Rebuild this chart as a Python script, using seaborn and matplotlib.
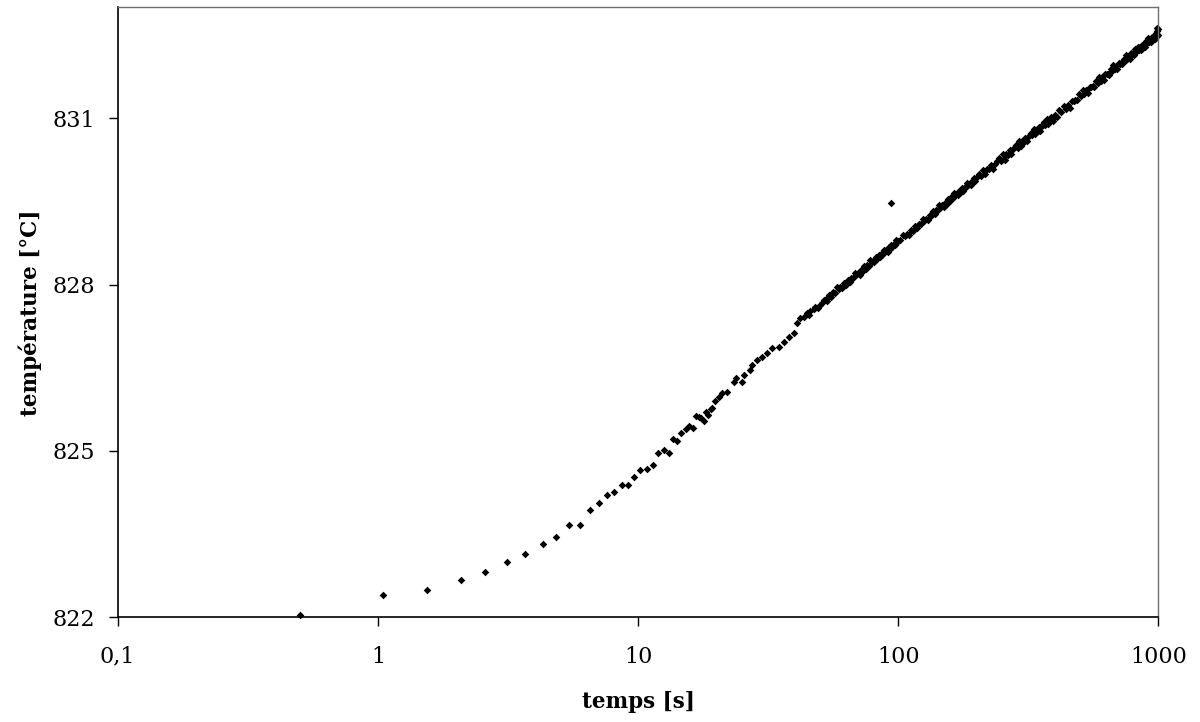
#--> Importing required libraries
import pandas as pd
import matplotlib
matplotlib.use("Agg")
import matplotlib.pyplot as plt
import seaborn as sns

##--> Data <--##
#-> early, well separated samples (time in s, temperature in °C)
early_t = [0.5, 1.05, 1.54, 2.09, 2.59, 3.14, 3.69, 4.31, 4.85, 5.45, 6.0, 6.56, 7.08, 7.6,
           8.11, 8.68, 9.15, 9.69, 10.2, 10.8, 11.4, 11.97, 12.6, 13.1, 13.6, 14.1, 14.6,
           15.3, 15.7, 16.2, 16.7, 17.1, 17.4, 18.0, 18.2, 18.5, 19.1, 19.3, 19.7, 20.4,
           21.0, 22.0, 23.3, 23.7, 25.1, 25.5, 27.0, 27.4, 28.6, 30.0, 31.4, 32.8, 34.7,
           36.3, 38.0, 39.7, 41.0, 42.1, 43.5, 44.6, 45.5, 46.0, 47.3, 48.0, 49.0, 50.2,
           51.0, 52.0, 53.0, 53.3]
early_T = [822.05, 822.41, 822.50, 822.67, 822.82, 822.99, 823.14, 823.32, 823.45, 823.67,
           823.67, 823.93, 824.06, 824.20, 824.26, 824.38, 824.38, 824.53, 824.65, 824.67,
           824.74, 824.97, 825.01, 824.97, 825.22, 825.18, 825.33, 825.40, 825.45, 825.41,
           825.63, 825.62, 825.59, 825.54, 825.70, 825.65, 825.76, 825.77, 825.90, 825.98,
           826.05, 826.07, 826.25, 826.32, 826.25, 826.37, 826.46, 826.55, 826.64, 826.70,
           826.77, 826.86, 826.88, 826.97, 827.06, 827.13, 827.30, 827.40, 827.42, 827.49,
           827.45, 827.52, 827.55, 827.60, 827.58, 827.64, 827.66, 827.72, 827.74, 827.70]

#-> dense band, 54 s to 100 s
band1_t = list(range(54, 101))
band1_T = [827.82, 827.78, 827.86, 827.85, 827.95, 827.92, 827.96, 827.93, 828.03, 828.00,
           828.09, 828.04, 828.12, 828.11, 828.21, 828.17, 828.21, 828.18, 828.27, 828.25,
           828.33, 828.28, 828.35, 828.34, 828.44, 828.40, 828.43, 828.40, 828.49, 828.46,
           828.54, 828.49, 828.55, 828.54, 828.63, 828.59, 828.62, 828.59, 828.67, 828.64,
           828.72, 828.67, 828.73, 828.72, 828.81, 828.76, 828.79]

#-> dense band, 102 s to 200 s
band2_t = list(range(102, 201, 2))
band2_T = [828.80, 828.90, 828.87, 828.91, 828.89, 828.99, 828.97, 829.06, 829.02, 829.10,
           829.09, 829.19, 829.15, 829.19, 829.16, 829.26, 829.23, 829.32, 829.27, 829.35,
           829.34, 829.43, 829.40, 829.43, 829.40, 829.49, 829.46, 829.55, 829.50, 829.57,
           829.56, 829.65, 829.61, 829.64, 829.61, 829.69, 829.66, 829.74, 829.69, 829.76,
           829.75, 829.83, 829.79, 829.82, 829.79, 829.87, 829.84, 829.92, 829.86, 829.93]

#-> dense band, 204 s to 400 s
band3_t = list(range(204, 401, 4))
band3_T = [829.99, 829.95, 830.07, 829.99, 830.08, 830.08, 830.16, 830.09, 830.18, 830.23,
           830.28, 830.23, 830.35, 830.26, 830.35, 830.34, 830.42, 830.35, 830.44, 830.48,
           830.52, 830.47, 830.59, 830.50, 830.58, 830.57, 830.64, 830.58, 830.66, 830.70,
           830.74, 830.69, 830.80, 830.71, 830.79, 830.77, 830.84, 830.77, 830.85, 830.89,
           830.93, 830.87, 830.98, 830.89, 830.97, 830.95, 831.02, 830.95, 831.02, 831.06]

#-> dense band, 408 s to 1000 s
band4_t = list(range(408, 1001, 8))
band4_T = [831.02, 831.14, 831.11, 831.22, 831.16, 831.24, 831.19, 831.31, 831.31, 831.33,
           831.32, 831.43, 831.40, 831.50, 831.44, 831.51, 831.46, 831.57, 831.57, 831.58,
           831.56, 831.67, 831.64, 831.74, 831.67, 831.74, 831.68, 831.80, 831.79, 831.80,
           831.78, 831.89, 831.85, 831.95, 831.88, 831.94, 831.88, 831.99, 831.98, 831.99,
           831.97, 832.07, 832.03, 832.13, 832.06, 832.12, 832.06, 832.17, 832.15, 832.16,
           832.14, 832.24, 832.20, 832.29, 832.22, 832.28, 832.22, 832.32, 832.31, 832.31,
           832.29, 832.39, 832.35, 832.44, 832.37, 832.43, 832.37, 832.47, 832.46, 832.46,
           832.43, 832.54, 832.49, 832.58, 832.50]

#-> isolated points off the band
extra_t = [94.0, 257.0, 990.0, 995.0]
extra_T = [829.47, 830.25, 832.62, 832.60]

x_ticks = [0.1, 1, 10, 100, 1000]
x_tick_labels = ["0,1", "1", "10", "100", "1000"]
y_ticks = [822, 825, 828, 831]

##--> Build one table <--##
df = pd.DataFrame({
    "temps": early_t + band1_t + band2_t + band3_t + band4_t + extra_t,
    "temperature": early_T + band1_T + band2_T + band3_T + band4_T + extra_T,
})

##--> Plot <--##
sns.set_theme(style="white")
plt.rcParams["font.family"] = ["DejaVu Serif"]

fig = plt.figure(figsize=(12, 7.22), dpi=100)
ax = fig.add_axes([0.0981, 0.145, 0.8672, 0.845])

sns.scatterplot(data=df, x="temps", y="temperature", ax=ax,
                color="black", marker="D", s=15, linewidth=0, clip_on=False)

ax.set_xscale("log")
ax.set_xlim(0.1, 1000)
ax.set_ylim(822, 833)
ax.set_xticks(x_ticks)
ax.set_xticklabels(x_tick_labels)
ax.xaxis.set_minor_locator(matplotlib.ticker.NullLocator())
ax.set_yticks(y_ticks)
ax.set_yticklabels([str(v) for v in y_ticks])

ax.tick_params(axis="both", which="major", direction="out", length=6.5, width=1,
               color="black", labelsize=16, labelcolor="black", bottom=True, left=True)
ax.tick_params(axis="x", pad=14)
ax.tick_params(axis="y", pad=10)

for side in ["left", "bottom"]:
    ax.spines[side].set_color("black")
    ax.spines[side].set_linewidth(1.2)
for side in ["top", "right"]:
    ax.spines[side].set_color("#707070")
    ax.spines[side].set_linewidth(1.0)

ax.set_xlabel("temps [s]", fontsize=15.5, fontweight="bold", color="black")
ax.set_ylabel("température [°C]", fontsize=15.5, fontweight="bold", color="black")
ax.xaxis.set_label_coords(0.5, -0.139)
ax.xaxis.label.set_va("center")
ax.yaxis.set_label_coords(-0.084, 0.5)
ax.yaxis.label.set_va("center")

plt.savefig("out.png", dpi=100)
